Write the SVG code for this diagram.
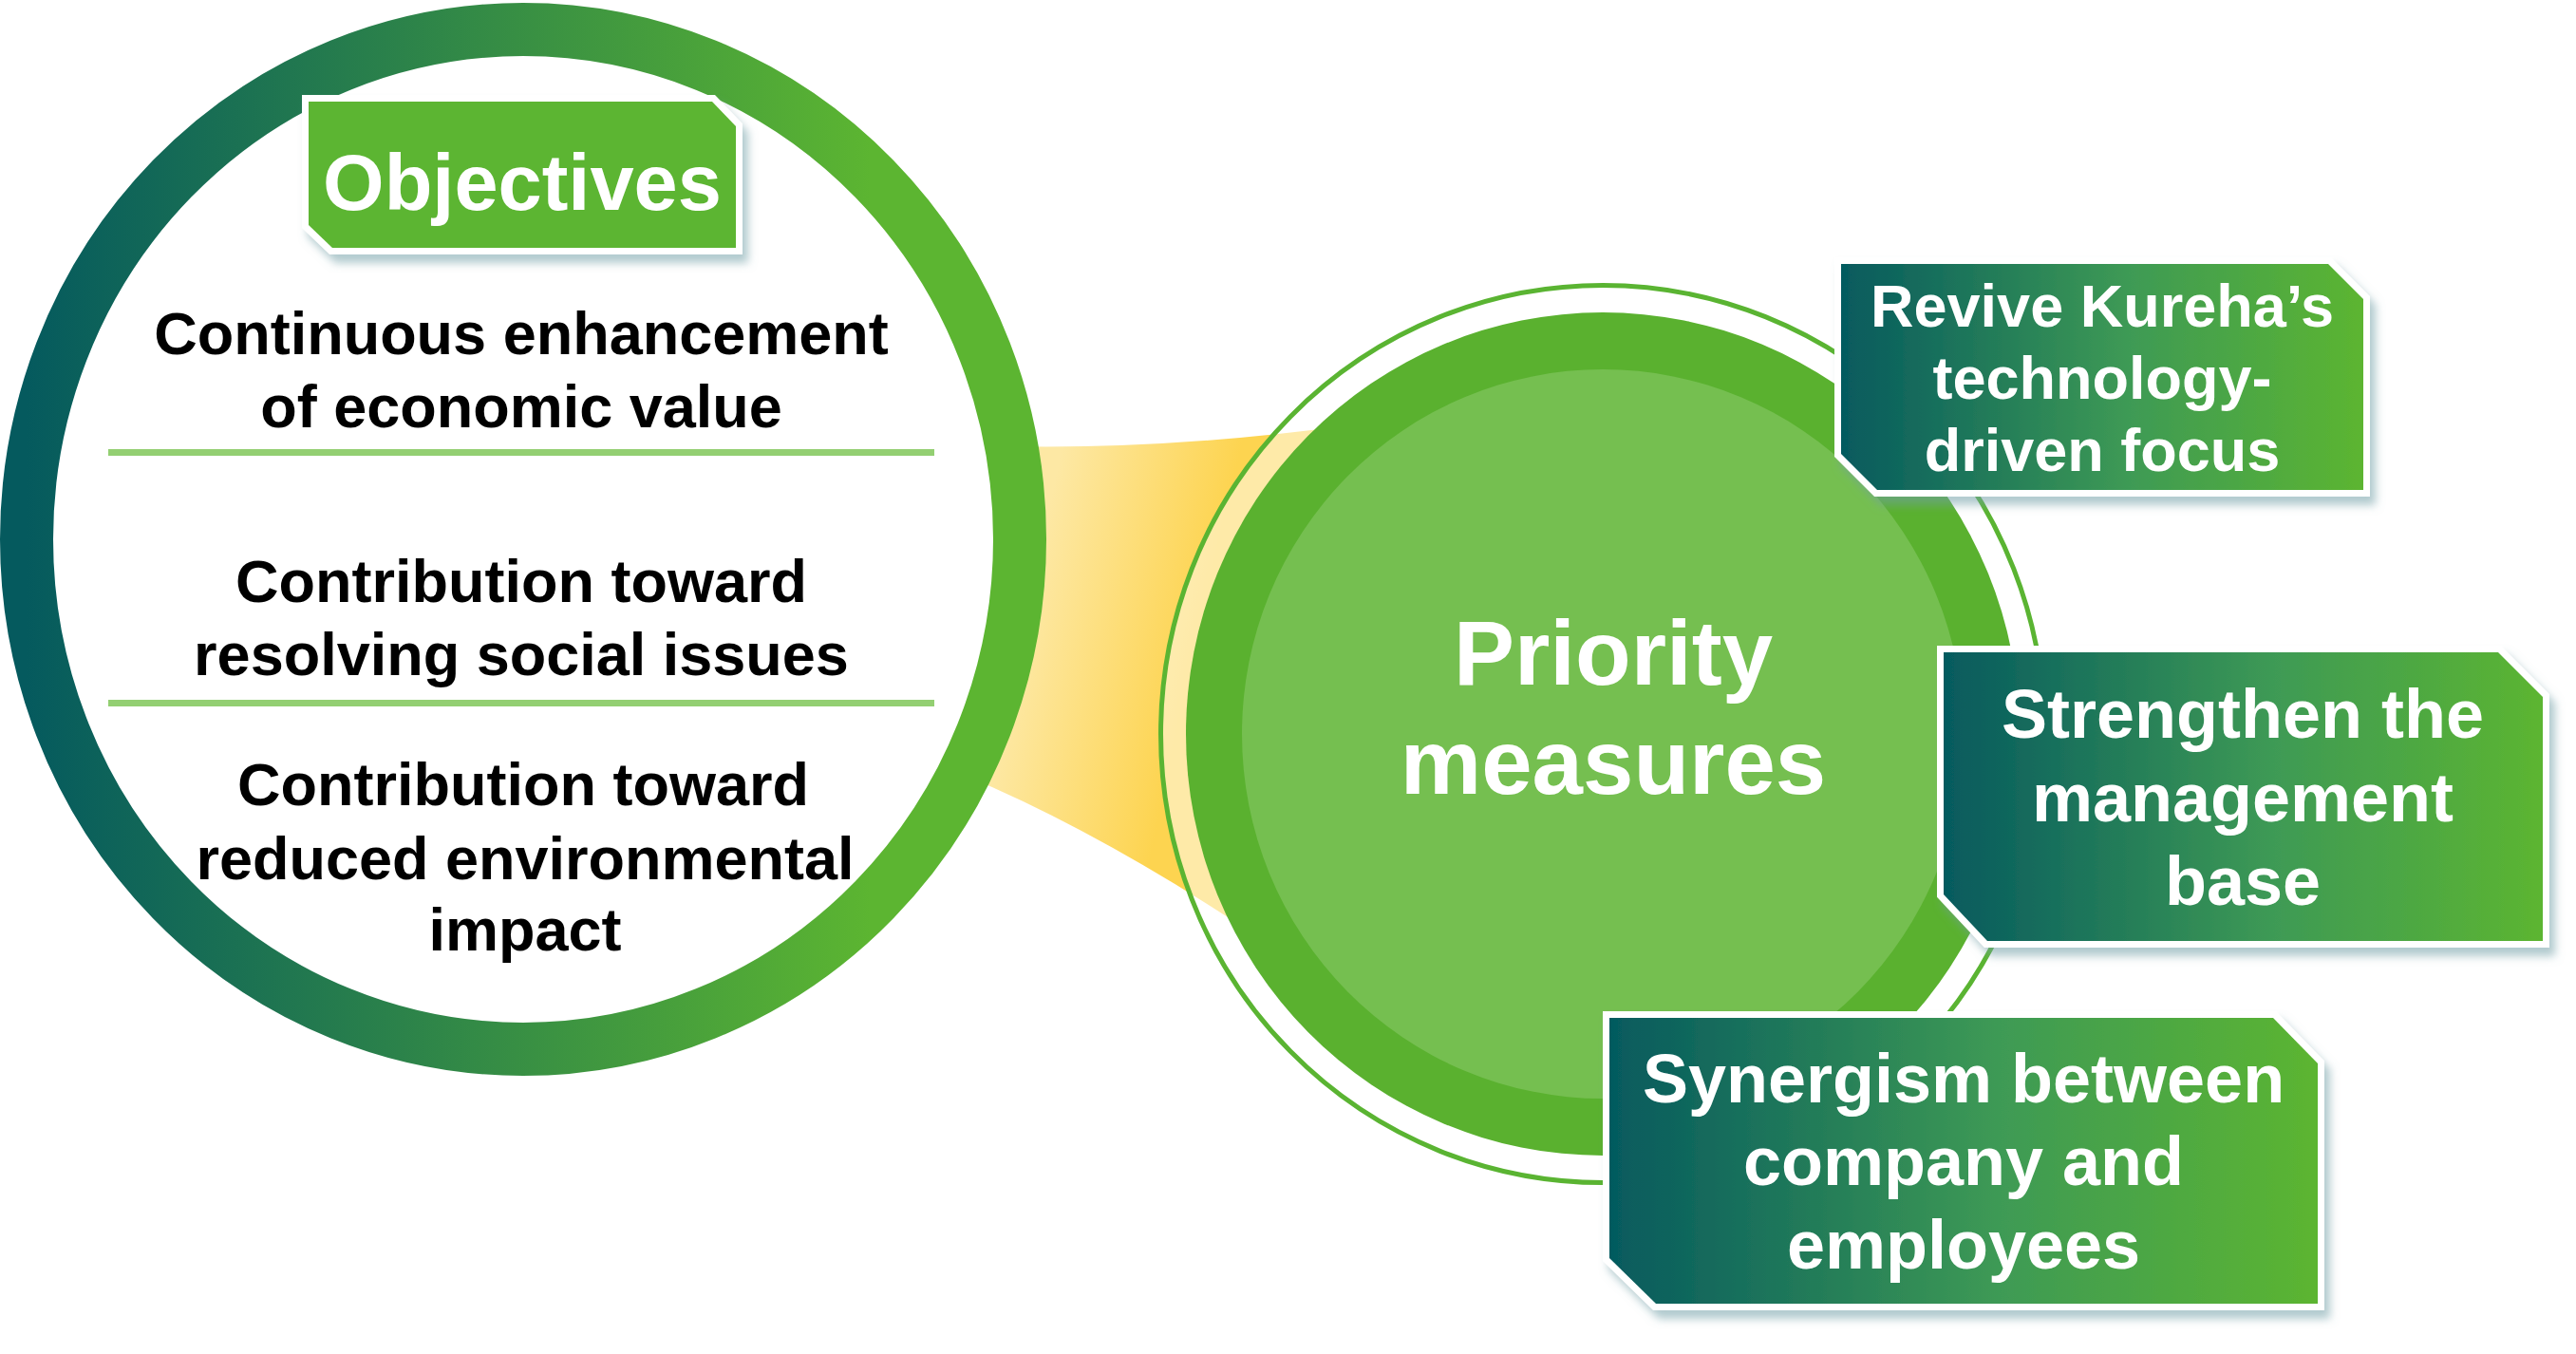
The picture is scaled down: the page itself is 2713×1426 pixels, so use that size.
<svg xmlns="http://www.w3.org/2000/svg" width="2713" height="1426" viewBox="0 0 2713 1426">
<style>
.wt{font-family:"Liberation Sans",Arial,sans-serif;font-weight:bold;fill:#ffffff;text-anchor:middle}
.bt{font-family:"Liberation Sans",Arial,sans-serif;font-weight:bold;fill:#000000;text-anchor:middle;font-size:63px}
.sep{stroke:#93cf72;stroke-width:7}
.boxshape{stroke:#ffffff;stroke-width:14;stroke-linejoin:miter;paint-order:stroke}
</style>
<defs>
<linearGradient id="ringGrad" x1="0" y1="0" x2="1" y2="0">
<stop offset="0" stop-color="#055a5e"/>
<stop offset="0.85" stop-color="#5cb531"/>
<stop offset="1" stop-color="#5cb531"/>
</linearGradient>
<linearGradient id="boxGrad" x1="0" y1="0" x2="1" y2="0">
<stop offset="0" stop-color="#055a5e"/>
<stop offset="0.55" stop-color="#3e9a55"/>
<stop offset="1" stop-color="#5cb531"/>
</linearGradient>
<linearGradient id="funnelGrad" gradientUnits="userSpaceOnUse" x1="1090" y1="600" x2="1270" y2="640">
<stop offset="0" stop-color="#fde8a4"/>
<stop offset="1" stop-color="#fdd450"/>
</linearGradient>
<filter id="shadow" x="-10%" y="-10%" width="125%" height="130%">
<feDropShadow dx="6" dy="9" stdDeviation="5" flood-color="#6f9ea5" flood-opacity="0.55"/>
</filter>
</defs>

<g id="connectors">
<path id="funnel" d="M 1000 468 Q 1200 478 1420 448 L 1440 1000 L 1330 990 Q 1150 870 1000 810 Z" fill="url(#funnelGrad)"/>
</g>

<g id="objectives-circle">
<ellipse cx="551" cy="568" rx="523" ry="537" fill="#ffffff" stroke="url(#ringGrad)" stroke-width="56"/>
<line class="sep" x1="114" y1="476.5" x2="984" y2="476.5"/>
<line class="sep" x1="114" y1="740.5" x2="984" y2="740.5"/>
<text class="bt" x="549" y="373">Continuous enhancement</text>
<text class="bt" x="549" y="450">of economic value</text>
<text class="bt" x="549" y="634">Contribution toward</text>
<text class="bt" x="549" y="711">resolving social issues</text>
<text class="bt" x="551" y="848">Contribution toward</text>
<text class="bt" x="553" y="926">reduced environmental</text>
<text class="bt" x="553" y="1001">impact</text>
</g>

<g id="objectives-label">
<polygon class="boxshape" filter="url(#shadow)" points="325,107 750,107 775,133 775,261 350,261 325,237" fill="#5cb531"/>
<text class="wt" x="550" y="221" font-size="83">Objectives</text>
</g>

<g id="priority-circle">
<ellipse cx="1688" cy="773" rx="465.5" ry="472.5" fill="#ffffff" fill-opacity="0.5" stroke="#5ab432" stroke-width="5"/>
<ellipse cx="1688" cy="773" rx="439" ry="444" fill="#5ab12f"/>
<ellipse cx="1688" cy="773" rx="380" ry="384" fill="#75bf50"/>
<text class="wt" x="1699" y="721" font-size="96">Priority</text>
<text class="wt" x="1699" y="836" font-size="96">measures</text>
</g>

<g id="revive">
<polygon class="boxshape" filter="url(#shadow)" points="1939,278 2452,278 2489,315 2489,516 1977,516 1939,478" fill="url(#boxGrad)"/>
<text class="wt" x="2214" y="344" font-size="63">Revive Kureha’s</text>
<text class="wt" x="2214" y="420" font-size="63">technology-</text>
<text class="wt" x="2214" y="496" font-size="63">driven focus</text>
</g>

<g id="strengthen">
<polygon class="boxshape" filter="url(#shadow)" points="2047,687 2631,687 2678,734 2678,991 2093,991 2047,942" fill="url(#boxGrad)"/>
<text class="wt" x="2362" y="777" font-size="72">Strengthen the</text>
<text class="wt" x="2362" y="865" font-size="72">management</text>
<text class="wt" x="2362" y="953" font-size="72">base</text>
</g>

<g id="synergism">
<polygon class="boxshape" filter="url(#shadow)" points="1695,1072 2394,1072 2441,1120 2441,1373 1744,1373 1695,1325" fill="url(#boxGrad)"/>
<text class="wt" x="2068" y="1161" font-size="72">Synergism between</text>
<text class="wt" x="2068" y="1248" font-size="72">company and</text>
<text class="wt" x="2068" y="1336" font-size="72">employees</text>
</g>
</svg>
